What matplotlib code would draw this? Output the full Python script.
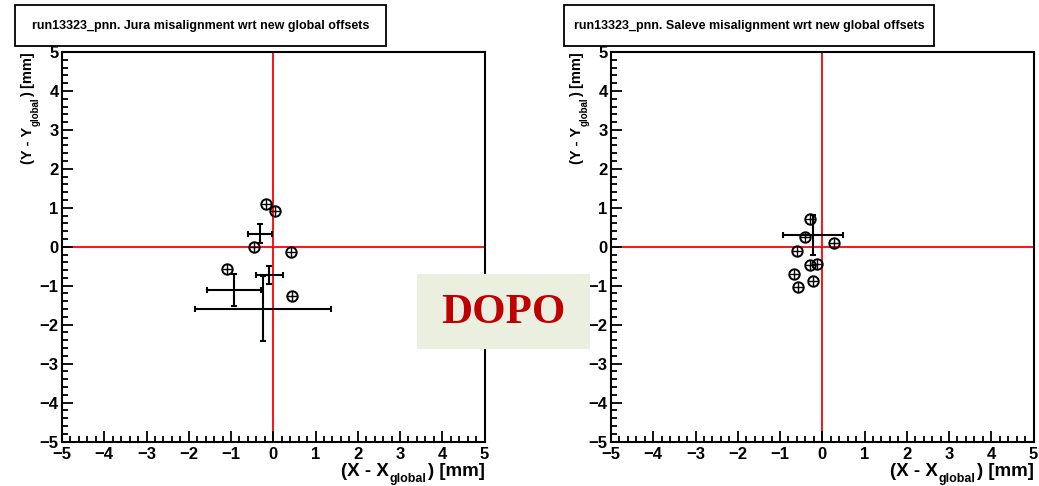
import matplotlib
matplotlib.use('Agg')
import matplotlib.pyplot as plt
from matplotlib.patches import Rectangle
from matplotlib.ticker import MultipleLocator

plt.rcParams['font.family'] = ['Liberation Sans', 'DejaVu Sans']
plt.rcParams['font.weight'] = 'bold'

# Jura: points shown only with a marker
jura_x = [-0.16, 0.04, -0.45, 0.43, -1.09, 0.45]
jura_y = [1.11, 0.92, 0.0, -0.13, -0.57, -1.27]
# Jura: points shown as error crosses
jura_cx = [-0.32, -0.10, -0.93, -0.24]
jura_cy = [0.34, -0.73, -1.12, -1.59]
jura_cxe = [0.28, 0.32, 0.63, 1.61]
jura_cye = [0.24, 0.23, 0.41, 0.84]

# Saleve
saleve_x = [-0.30, -0.40, 0.28, -0.59, -0.30, -0.12, -0.68, -0.22, -0.57]
saleve_y = [0.70, 0.25, 0.10, -0.11, -0.46, -0.45, -0.71, -0.88, -1.03]
saleve_cx = [-0.22]
saleve_cy = [0.30]
saleve_cxe = [0.71]
saleve_cye = [0.51]

titles = ['run13323_pnn. Jura misalignment wrt new global offsets',
          'run13323_pnn. Saleve misalignment wrt new global offsets']

W, H = 1039, 486
fig = plt.figure(figsize=(W/100, H/100), dpi=100)
rend = fig.canvas.get_renderer()

def px(x, y):
    return x/W, 1 - y/H

def xlabel(right, base, letter):
    # root style label: main text, lowered subscript, main text (right aligned)
    x = right
    t = fig.text(*px(x, base), ') [mm]', ha='right', va='baseline', fontsize=13.5)
    x -= t.get_window_extent(rend).width + 1
    t = fig.text(*px(x, base + 6), 'global', ha='right', va='baseline', fontsize=9)
    x -= t.get_window_extent(rend).width + 1
    fig.text(*px(x, base), '(%s - %s' % (letter, letter), ha='right',
             va='baseline', fontsize=13.5)

def ylabel(base, top, letter):
    y = top
    kw = dict(ha='right', va='baseline', rotation=90, rotation_mode='anchor')
    t = fig.text(*px(base, y), ') [mm]', fontsize=10.5, **kw)
    y += t.get_window_extent(rend).height + 1
    t = fig.text(*px(base + 7, y), 'global', fontsize=7, **kw)
    y += t.get_window_extent(rend).height + 1
    fig.text(*px(base, y), '(%s - %s' % (letter, letter), fontsize=10.5, **kw)

def panel(left, px_pts, py_pts, cx, cy, cxe, cye, title, box):
    ax = fig.add_axes([left/W, 1-441.5/H, 422.5/W, 389.5/H])
    ax.set_xlim(-5, 5)
    ax.set_ylim(-5, 5)
    ax.axhline(0, color='red', lw=1.3, zorder=1)
    ax.axvline(0, color='red', lw=1.3, zorder=1)
    ax.errorbar(cx, cy, xerr=cxe, yerr=cye, fmt='none', ecolor='black',
                elinewidth=1.5, capsize=2.5, capthick=1.5, zorder=3)
    ax.plot(px_pts, py_pts, 'o', mfc='none', mec='black', ms=7.5, mew=1.4, zorder=4)
    ax.plot(px_pts, py_pts, '+', color='black', ms=7.5, mew=1.0, zorder=4)
    ax.xaxis.set_major_locator(MultipleLocator(1))
    ax.xaxis.set_minor_locator(MultipleLocator(0.2))
    ax.yaxis.set_major_locator(MultipleLocator(1))
    ax.yaxis.set_minor_locator(MultipleLocator(0.2))
    ax.tick_params(which='both', direction='in', top=False, right=False,
                   width=1.3, labelsize=12, pad=2.5)
    ax.tick_params(axis='x', pad=4)
    ax.tick_params(which='major', length=8)
    ax.tick_params(which='minor', length=4)
    for s in ax.spines.values():
        s.set_linewidth(1.5)
    for lab in ax.get_xticklabels() + ax.get_yticklabels():
        lab.set_fontweight('bold')
    xlabel(left + 422.5, 476, 'X')
    ylabel(left - 30, 52, 'Y')
    # title box
    bx0, by0, bx1, by1 = box
    fig.patches.append(Rectangle((bx0/W, 1-by1/H), (bx1-bx0)/W, (by1-by0)/H,
                                 transform=fig.transFigure, fill=False,
                                 edgecolor='black', lw=1.3))
    tx, ty = px((bx0+bx1)/2, (by0+by1)/2 + 1)
    fig.text(tx, ty, title, ha='center', va='center', fontsize=9)
    return ax

panel(62, jura_x, jura_y, jura_cx, jura_cy, jura_cxe, jura_cye,
      titles[0], (15, 5, 386, 46))
panel(611, saleve_x, saleve_y, saleve_cx, saleve_cy, saleve_cxe, saleve_cye,
      titles[1], (564, 5, 934, 46))

# DOPO stamp
fig.patches.append(Rectangle((417/W, 1-349/H), (590-417)/W, (349-274)/H,
                             transform=fig.transFigure, facecolor='#ebefe0',
                             edgecolor='none', zorder=10))
dx, dy = px(503, 313)
fig.text(dx, dy, 'DOPO', ha='center', va='center', color='#c00000',
         fontsize=31, fontweight='bold', family='Liberation Serif', zorder=11)

fig.savefig('out.png', dpi=100)
